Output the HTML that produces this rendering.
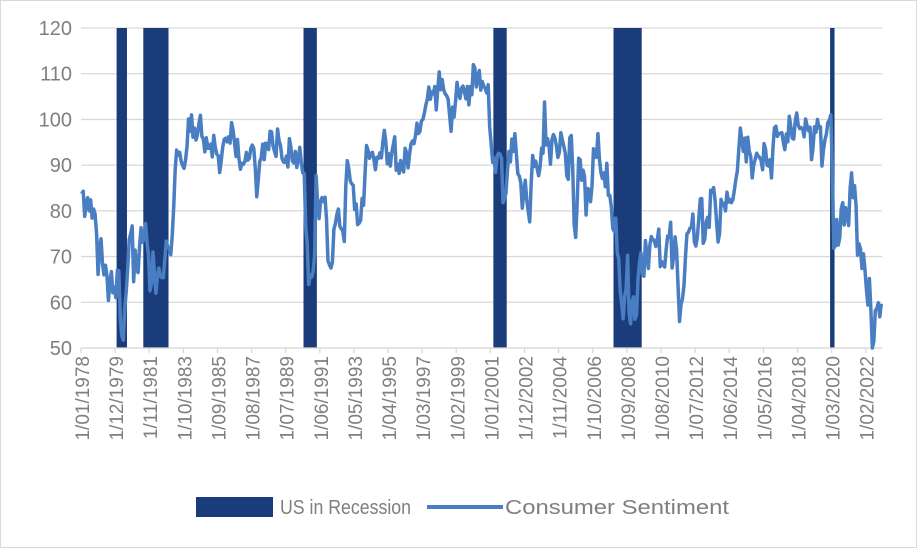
<!DOCTYPE html>
<html><head><meta charset="utf-8"><style>
html,body{margin:0;padding:0;background:#fff;}
body{width:917px;height:548px;overflow:hidden;font-family:"Liberation Sans",sans-serif;}
#frame{position:absolute;left:0;top:0;width:915px;height:546px;border:1px solid #d9d9d9;}
</style></head><body>
<div id="frame"></div>
<svg id="chart" width="917" height="548" style="position:absolute;left:0;top:0"></svg>
<script>
const yTicks=[50,60,70,80,90,100,110,120];
const xLabels=["1/01/1978","1/12/1979","1/11/1981","1/10/1983","1/09/1985","1/08/1987","1/07/1989","1/06/1991","1/05/1993","1/04/1995","1/03/1997","1/02/1999","1/01/2001","1/12/2002","1/11/2004","1/10/2006","1/09/2008","1/08/2010","1/07/2012","1/06/2014","1/05/2016","1/04/2018","1/03/2020","1/02/2022"];
const recessionStarts=[24,42,150,278,359,505];
const recessionEnds=[31,59,159,287,378,508];
const sentiment=[
83.7,84.3,78.8,81.6,82.9,80.0,82.4,78.4,80.4,79.3,75.0,66.1,
72.1,73.9,68.4,66.0,68.1,65.8,60.4,64.5,66.7,62.1,63.3,61.0,
67.0,66.9,56.5,52.7,51.7,58.7,62.3,67.4,73.7,75.0,76.7,64.5,
71.4,66.9,66.5,72.4,76.3,73.1,74.1,77.2,73.1,70.3,62.5,64.3,
71.0,66.5,62.0,65.5,67.5,65.7,65.4,65.4,69.3,73.4,72.1,71.9,
70.4,74.6,80.8,89.1,93.3,92.2,92.8,90.9,89.9,89.3,91.1,94.2,
100.1,97.4,101.0,96.1,98.1,95.5,96.6,99.1,100.9,96.3,95.7,92.9,
96.0,93.7,93.7,94.6,91.8,96.5,94.0,92.4,92.1,88.4,90.9,93.9,
95.6,95.9,95.1,96.2,94.8,99.3,97.7,94.9,91.9,95.6,91.4,89.1,
90.4,90.2,90.8,92.8,91.1,91.5,93.7,94.4,93.6,89.3,83.1,86.8,
90.8,91.6,94.6,91.2,94.8,94.7,93.4,97.4,97.3,94.1,93.0,91.9,
97.9,95.4,94.3,91.5,90.7,90.6,92.0,89.6,95.8,93.9,90.9,90.5,
93.0,89.5,91.3,93.9,90.6,88.3,88.2,76.4,72.8,63.9,66.0,65.5,
66.8,70.4,87.7,81.8,78.3,82.1,82.9,82.0,83.0,78.3,69.1,68.2,
67.5,68.8,76.0,77.2,79.2,80.4,76.6,76.1,75.6,73.3,85.3,91.0,
89.3,86.6,85.9,85.6,80.3,81.5,77.0,77.3,77.9,82.7,81.2,88.2,
94.3,93.2,91.5,92.6,92.8,91.2,89.0,91.7,91.5,92.7,91.6,95.1,
97.6,95.1,90.3,92.5,89.8,92.7,94.4,96.2,88.9,90.2,88.2,91.0,
89.3,88.5,93.7,92.7,89.4,92.4,94.7,95.3,94.7,96.5,99.2,96.9,
97.4,99.7,100.0,101.4,103.2,104.5,107.1,104.4,106.0,105.6,107.2,102.1,
106.6,110.4,106.5,108.7,106.5,105.6,105.2,104.4,100.9,97.4,102.7,100.5,
103.9,108.1,105.7,104.6,106.8,107.3,106.0,104.5,107.2,103.2,107.2,105.4,
112.0,111.3,107.1,109.2,110.7,106.4,108.3,107.3,106.8,105.8,107.6,98.4,
94.7,90.6,91.5,88.4,92.0,92.6,92.4,91.5,81.8,82.7,83.9,88.8,
93.0,90.7,95.7,93.0,96.9,92.4,88.1,87.6,86.1,80.6,84.2,86.7,
82.4,79.9,77.6,86.0,92.1,89.7,90.9,89.3,87.7,89.6,93.7,92.6,
103.8,94.4,95.8,94.2,90.2,95.6,96.7,95.9,94.2,91.7,92.8,97.1,
95.5,94.1,92.6,87.7,86.9,96.0,96.5,89.1,76.9,74.2,81.6,91.5,
91.2,86.7,88.9,87.4,79.1,84.9,84.7,82.0,85.4,93.6,92.1,91.7,
96.9,91.3,88.4,87.1,88.3,85.3,90.4,83.4,83.4,80.9,76.1,75.5,
78.4,70.8,69.5,62.6,59.8,56.4,61.2,63.0,70.3,57.6,55.3,60.1,
61.2,56.3,57.3,65.1,68.7,70.8,66.0,65.7,73.5,70.6,67.4,72.5,
74.4,73.6,73.6,72.2,73.6,76.0,67.8,68.9,68.2,67.7,71.6,74.5,
74.2,77.5,67.5,69.8,74.3,71.5,63.7,55.8,59.5,60.8,63.7,69.9,
75.0,75.3,76.2,76.4,79.3,73.2,72.3,74.3,78.3,82.6,82.7,72.9,
73.8,77.6,78.6,76.4,84.5,84.1,85.1,82.1,77.5,73.2,75.1,82.5,
81.2,81.6,80.0,84.1,81.9,82.5,81.8,82.5,84.6,86.9,88.8,93.6,
98.1,95.4,93.0,95.9,90.7,96.1,93.1,91.9,87.2,90.0,91.3,92.6,
92.0,91.7,91.0,89.0,94.7,93.5,90.0,89.8,91.2,87.2,93.8,98.2,
98.5,96.3,96.9,97.0,97.1,95.0,93.4,96.8,95.1,100.7,98.5,95.9,
95.7,99.7,101.4,98.8,98.0,98.2,97.9,96.2,100.1,98.6,97.5,98.3,
91.2,93.8,98.4,97.2,100.0,98.2,98.4,89.8,93.2,95.5,96.8,99.3,
99.8,101.0,89.1,71.8,72.3,78.1,72.5,74.1,80.4,81.8,76.9,80.7,
79.0,76.8,84.9,88.3,82.9,85.5,81.2,70.3,72.8,71.7,67.4,70.6,
67.2,62.8,59.4,65.2,58.4,50.0,51.5,58.2,58.6,59.9,56.8,59.7];

const svg=document.getElementById('chart');
const NS='http://www.w3.org/2000/svg';
const L=81,R=882,T=28,B=348,N=sentiment.length;
const mw=(R-L)/N;
function xEdge(i){return L+i*mw;}
function xMid(i){return L+(i+0.5)*mw;}
function y(v){return B-(v-50)*(B-T)/70;}
function mk(tag,attrs){const e=document.createElementNS(NS,tag);for(const k in attrs)e.setAttribute(k,attrs[k]);svg.appendChild(e);return e;}

yTicks.forEach(v=>{
  const g=mk('line',{x1:L,x2:R,y1:y(v),y2:y(v),stroke:'#d9d9d9','stroke-width':1.3});
  
  
  const t=mk('text',{x:72,y:y(v)+7,'text-anchor':'end','font-size':20,fill:'#7f7f7f','font-family':'Liberation Sans, sans-serif'});
  t.textContent=v;
  
  
});

recessionStarts.forEach((s,k)=>{
  const r=mk('rect',{x:xEdge(s),y:T,width:xEdge(recessionEnds[k])-xEdge(s),height:B-T,fill:'#1b3c7a'});
  
  
});

const ax=mk('line',{x1:L,x2:R,y1:B,y2:B,stroke:'#d9d9d9','stroke-width':1.3});



xLabels.forEach((lab,k)=>{
  const m=k*23;
  const xt=xEdge(m);
  const tk=mk('line',{x1:xt,x2:xt,y1:B,y2:B+5,stroke:'#d9d9d9','stroke-width':1.3});
  
  
  const t=mk('text',{x:0,y:0,'text-anchor':'end','font-size':19,fill:'#7f7f7f','font-family':'Liberation Sans, sans-serif',transform:'translate('+(xt+8)+','+(B+8)+') rotate(-90)'});
  t.textContent=lab;
  
  
});

let d='';
sentiment.forEach((v,i)=>{d+=(i?'L':'M')+xMid(i).toFixed(2)+','+y(v).toFixed(2);});
const p=mk('path',{d:d,fill:'none',stroke:'#4a7ec2','stroke-width':3.5,'stroke-linejoin':'round'});



const lb=mk('rect',{x:196,y:497,width:77,height:20,fill:'#1b3c7a'});


const lt1=mk('text',{x:280,y:514,'font-size':20,fill:'#7f7f7f','font-family':'Liberation Sans, sans-serif',textLength:131,lengthAdjust:'spacingAndGlyphs'});
lt1.textContent='US in Recession';


const ll=mk('line',{x1:427,x2:503,y1:507,y2:507,stroke:'#4a7ec2','stroke-width':4});


const lt2=mk('text',{x:505,y:514,'font-size':20,fill:'#7f7f7f','font-family':'Liberation Sans, sans-serif',textLength:224,lengthAdjust:'spacingAndGlyphs'});
lt2.textContent='Consumer Sentiment';


</script>
</body></html>
